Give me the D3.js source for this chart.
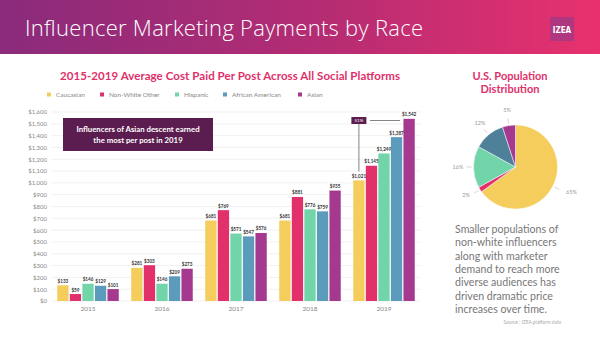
<!DOCTYPE html>
<html><head><meta charset="utf-8">
<script src="https://cdn.jsdelivr.net/npm/d3@7"></script>
<style>body{margin:0;background:#fff}svg{display:block}</style>
</head><body>
<script>
const years = ["2015","2016","2017","2018","2019"];
const seriesNames = ["Caucasian","Non-White Other","Hispanic","African American","Asian"];
const caucasian = [133, 281, 681, 681, 1021];
const nonWhiteOther = [59, 303, 769, 881, 1145];
const hispanic = [146, 146, 571, 776, 1249];
const africanAmerican = [129, 209, 547, 759, 1387];
const asian = [101, 273, 576, 935, 1542];
const yTicks = [0,100,200,300,400,500,600,700,800,900,1000,1100,1200,1300,1400,1500,1600];
const popLabels = ["Caucasian","Non-White Other","Hispanic","African American","Asian"];
const popShare = [65, 2, 16, 12, 5];

const barColors = ["#f4cd5c","#e2306b","#72d4a9","#5b9bbb","#a5388f"];
const pieColors = ["#f4cd5c","#e2306b","#72d4a9","#4e8099","#a5388f"];
const seriesValues = [caucasian, nonWhiteOther, hispanic, africanAmerican, asian];

const W=600,H=338;
const svg=d3.select("body").append("svg").attr("width",W).attr("height",H);
const defs=svg.append("defs");
const grad=defs.append("linearGradient").attr("id","hdr").attr("x1","0").attr("x2","1");
grad.append("stop").attr("offset","0").attr("stop-color","#8a2b7b");
grad.append("stop").attr("offset","0.55").attr("stop-color","#b62c73");
grad.append("stop").attr("offset","1").attr("stop-color","#e8316e");
svg.append("rect").attr("width",W).attr("height",54).attr("fill","url(#hdr)");
svg.append("text").attr("x",25).attr("y",36).attr("fill","#fff")
  .attr("font-family","Open Sans").attr("font-weight",300).attr("font-size",22).attr("textLength",398)
  .text("Influencer Marketing Payments by Race");
// logo
svg.append("rect").attr("x",550).attr("y",17).attr("width",24).attr("height",24).attr("fill","#9a3a86").attr("opacity",0.7);
svg.append("text").attr("x",562).attr("y",33).attr("text-anchor","middle").attr("fill","#fff")
  .attr("font-family","DejaVu Sans Condensed").attr("font-weight","bold").attr("font-size",8).text("IZEA");

const font="Lato";
// subtitle
svg.append("text").attr("x",230).attr("y",80).attr("text-anchor","middle").attr("fill","#e0306a")
  .attr("font-family",font).attr("font-weight","bold").attr("font-size",11.5).attr("textLength",340).text("2015-2019 Average Cost Paid Per Post Across All Social Platforms");

// legend
const legX=[47,100,175,223,298];
seriesNames.forEach((n,i)=>{
  svg.append("rect").attr("x",legX[i]).attr("y",92.5).attr("width",4).attr("height",4).attr("fill",barColors[i]);
  svg.append("text").attr("x",legX[i]+9).attr("y",97).attr("fill","#888").attr("font-family",font).attr("font-size",6.5).text(n);
});

const y=d3.scaleLinear().domain([0,1600]).range([301,112]);
const x0=d3.scaleBand().domain(years).range([51,421]).paddingInner(0.135).paddingOuter(0.0676);
const x1=d3.scaleBand().domain(seriesNames).range([0,x0.bandwidth()]).padding(0.1);

// grid + y labels
const g=svg.append("g");
g.selectAll("line.grid").data(yTicks).join("line").attr("class","grid")
  .attr("x1",51).attr("x2",421).attr("y1",d=>y(d)).attr("y2",d=>y(d)).attr("stroke","#eeeeee").attr("stroke-width",0.8);
const yAxis=d3.axisLeft(y).tickValues(yTicks).tickSize(0).tickPadding(0).tickFormat(d=>"$"+d3.format(",")(d));
const ya=svg.append("g").attr("transform","translate(47,0)").call(yAxis);
ya.select(".domain").remove();
ya.selectAll("text").attr("font-family",font).attr("font-size",6).attr("fill","#888");

const xAxis=d3.axisBottom(x0).tickSize(0).tickPadding(0);
const xa=svg.append("g").attr("transform","translate(0,305)").call(xAxis);
xa.select(".domain").remove();
xa.selectAll("text").attr("font-family",font).attr("font-size",6.5).attr("fill","#888").attr("dy","0.9em");

// bars
const data=[];
years.forEach((yr,j)=>seriesNames.forEach((s,i)=>data.push({yr,s,i,v:seriesValues[i][j]})));
const bg=svg.append("g");
bg.selectAll("rect").data(data).join("rect")
  .attr("x",d=>x0(d.yr)+x1(d.s)).attr("width",x1.bandwidth())
  .attr("y",d=>y(d.v)).attr("height",d=>y(0)-y(d.v)).attr("fill",d=>barColors[d.i]);
bg.selectAll("text").data(data).join("text")
  .attr("x",d=>x0(d.yr)+x1(d.s)+x1.bandwidth()/2).attr("y",d=>y(d.v)-2.5)
  .attr("text-anchor","middle").attr("font-family",font).attr("font-weight","bold").attr("font-size",4.6).attr("fill","#333")
  .text(d=>"$"+d3.format(",")(d.v));

// annotation box
svg.append("rect").attr("x",63).attr("y",118).attr("width",150).attr("height",33).attr("fill","#5b1c4f");
svg.append("text").attr("x",138).attr("y",132).attr("text-anchor","middle").attr("fill","#fff")
  .attr("font-family",font).attr("font-weight","bold").attr("font-size",7.8).text("Influencers of Asian descent earned");
svg.append("text").attr("x",138).attr("y",143).attr("text-anchor","middle").attr("fill","#fff")
  .attr("font-family",font).attr("font-weight","bold").attr("font-size",7.8).text("the most per post in 2019");

// 51% callout
const cx=x0("2019")+x1("Caucasian")+x1.bandwidth()/2;
const ax=x0("2019")+x1("Asian")+x1.bandwidth()/2;
svg.append("line").attr("x1",cx).attr("x2",cx).attr("y1",124).attr("y2",y(caucasian[4])-9).attr("stroke","#666").attr("stroke-width",0.8);
svg.append("line").attr("x1",370).attr("x2",ax-9).attr("y1",120.5).attr("y2",120.5).attr("stroke","#666").attr("stroke-width",0.8);
svg.append("rect").attr("x",cx-7.5).attr("y",117).attr("width",15).attr("height",7).attr("fill","#5b1c4f");
svg.append("text").attr("x",cx).attr("y",122.3).attr("text-anchor","middle").attr("fill","#fff")
  .attr("font-family",font).attr("font-size",4.5).text("51%");

// right panel
svg.append("text").attr("x",510).attr("y",79.5).attr("text-anchor","middle").attr("fill","#e0306a")
  .attr("font-family",font).attr("font-weight","bold").attr("font-size",11).text("U.S. Population");
svg.append("text").attr("x",510).attr("y",92.5).attr("text-anchor","middle").attr("fill","#e0306a")
  .attr("font-family",font).attr("font-weight","bold").attr("font-size",11).text("Distribution");

const pcx=515.5,pcy=167,pr=42;
const pie=d3.pie().sort(null).value(d=>d)(popShare);
const arc=d3.arc().innerRadius(0).outerRadius(pr);
const pg=svg.append("g").attr("transform",`translate(${pcx},${pcy})`);
pg.selectAll("path").data(pie).join("path").attr("d",arc).attr("fill",(d,i)=>pieColors[i]).attr("stroke","#fff").attr("stroke-width",0.5);
const labelPos=[[566,194],[466,197],[458,169],[480,125],[507,112]];
const anchors=["start","middle","middle","middle","middle"];
const inner=d3.arc().innerRadius(pr+2).outerRadius(pr+2);
const outer=d3.arc().innerRadius(pr+7).outerRadius(pr+7);
pie.forEach((d,i)=>{
  const a=inner.centroid(d), b=outer.centroid(d);
  pg.append("line").attr("x1",a[0]).attr("y1",a[1]).attr("x2",b[0]).attr("y2",b[1]).attr("stroke","#bbb").attr("stroke-width",0.6);
});
popShare.forEach((v,i)=>{
  svg.append("text").attr("x",labelPos[i][0]).attr("y",labelPos[i][1]).attr("text-anchor",anchors[i])
   .attr("font-family",font).attr("font-size",5.5).attr("fill","#999").text(v+"%");
});

const para=["Smaller populations of","non-white influencers","along with marketer","demand to reach more","diverse audiences has","driven dramatic price","increases over time."];
para.forEach((t,i)=>{
  svg.append("text").attr("x",455).attr("y",233+i*13.3).attr("fill","#777")
   .attr("font-family",font).attr("font-size",10.6).text(t);
});
svg.append("text").attr("x",561).attr("y",324).attr("text-anchor","end").attr("fill","#aaa")
  .attr("font-family",font).attr("font-size",4.8).text("Source : IZEA platform data");
</script>
</body></html>
